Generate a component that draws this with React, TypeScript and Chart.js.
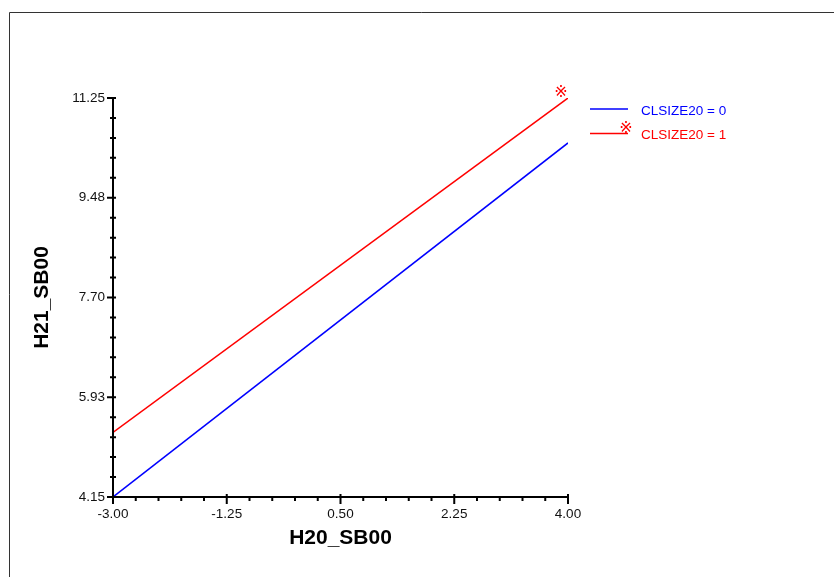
import { useEffect, useRef } from "react";
import { Chart, registerables } from "chart.js";

Chart.register(...registerables);

const xValues = [-3, 4];
const series0 = [4.15, 10.45];
const series1 = [5.3, 11.25];
const seriesLabels = ["CLSIZE20 = 0", "CLSIZE20 = 1"];
const seriesColors = ["#0000ff", "#ff0000"];
const xTickValues = [-3, -1.25, 0.5, 2.25, 4];
const xTickLabels = ["-3.00", "-1.25", "0.50", "2.25", "4.00"];
const yTickValues = [4.15, 5.925, 7.7, 9.475, 11.25];
const yTickLabels = ["4.15", "5.93", "7.70", "9.48", "11.25"];
const xTitle = "H20_SB00";
const yTitle = "H21_SB00";
const markerSymbol = "※";

const FONT = '"Liberation Sans", Arial, sans-serif';
const SYMBOL_FONT = '"DejaVu Sans", sans-serif';

const decorPlugin = {
  id: "decor",
  afterDraw(chart: any) {
    const { ctx, chartArea } = chart;
    const xs = chart.scales.x;
    const ys = chart.scales.y;
    ctx.save();
    // frame
    ctx.strokeStyle = "#333";
    ctx.lineWidth = 1;
    ctx.beginPath();
    ctx.moveTo(9.5, chart.height);
    ctx.lineTo(9.5, 12.5);
    ctx.lineTo(chart.width, 12.5);
    ctx.stroke();

    // axes
    ctx.strokeStyle = "#000";
    ctx.lineWidth = 2;
    ctx.beginPath();
    ctx.moveTo(chartArea.left, chartArea.top - 1);
    ctx.lineTo(chartArea.left, chartArea.bottom);
    ctx.lineTo(chartArea.right + 1, chartArea.bottom);
    ctx.stroke();

    // ticks
    ctx.lineWidth = 2;
    ctx.beginPath();
    for (let i = 0; i < yTickValues.length; i++) {
      const py = ys.getPixelForValue(yTickValues[i]);
      ctx.moveTo(chartArea.left - 6, py);
      ctx.lineTo(chartArea.left + 3, py);
      if (i < yTickValues.length - 1) {
        const step = (yTickValues[i + 1] - yTickValues[i]) / 5;
        for (let k = 1; k < 5; k++) {
          const my = ys.getPixelForValue(yTickValues[i] + step * k);
          ctx.moveTo(chartArea.left - 3, my);
          ctx.lineTo(chartArea.left + 3, my);
        }
      }
    }
    for (let i = 0; i < xTickValues.length; i++) {
      const px = xs.getPixelForValue(xTickValues[i]);
      ctx.moveTo(px, chartArea.bottom - 3);
      ctx.lineTo(px, chartArea.bottom + 7);
      if (i < xTickValues.length - 1) {
        const step = (xTickValues[i + 1] - xTickValues[i]) / 5;
        for (let k = 1; k < 5; k++) {
          const mx = xs.getPixelForValue(xTickValues[i] + step * k);
          ctx.moveTo(mx, chartArea.bottom - 1);
          ctx.lineTo(mx, chartArea.bottom + 4);
        }
      }
    }
    ctx.stroke();

    // titles
    ctx.fillStyle = "#000";
    ctx.font = `bold 21px ${FONT}`;
    ctx.textAlign = "center";
    ctx.textBaseline = "middle";
    ctx.fillText(xTitle, (chartArea.left + chartArea.right) / 2, 538);
    ctx.save();
    ctx.translate(42, (chartArea.top + chartArea.bottom) / 2);
    ctx.rotate(-Math.PI / 2);
    ctx.fillText(yTitle, 0, 0);
    ctx.restore();

    // marker at end of last series
    const lastMeta = chart.getDatasetMeta(chart.data.datasets.length - 1);
    const lastPt = lastMeta.data[lastMeta.data.length - 1];
    ctx.font = `16px ${SYMBOL_FONT}`;
    ctx.fillStyle = seriesColors[seriesColors.length - 1];
    ctx.fillText(markerSymbol, lastPt.x - 7, lastPt.y - 5);

    // legend
    const lx0 = 590;
    const lx1 = 628;
    const ly0 = 109;
    chart.data.datasets.forEach((ds: any, i: number) => {
      const ly = ly0 + i * 24.5;
      ctx.strokeStyle = ds.borderColor;
      ctx.lineWidth = 1.5;
      ctx.beginPath();
      ctx.moveTo(lx0, ly);
      ctx.lineTo(lx1, ly);
      ctx.stroke();
      ctx.fillStyle = ds.borderColor;
      ctx.font = `13.5px ${FONT}`;
      ctx.textAlign = "left";
      ctx.fillText(ds.label, 641, ly + 2);
      if (i === chart.data.datasets.length - 1) {
        ctx.textAlign = "center";
        ctx.font = `16px ${SYMBOL_FONT}`;
        ctx.fillText(markerSymbol, lx1 - 2, ly - 5);
      }
    });
    ctx.restore();
  },
};

export default function App() {
  const ref = useRef<HTMLCanvasElement | null>(null);
  useEffect(() => {
    if (!ref.current) return;
    const chart = new Chart(ref.current, {
      type: "line",
      data: {
        datasets: [series0, series1].map((s, i) => ({
          label: seriesLabels[i],
          data: xValues.map((x, j) => ({ x, y: s[j] })),
          borderColor: seriesColors[i],
          backgroundColor: seriesColors[i],
          borderWidth: 1.5,
          pointRadius: 0,
          fill: false,
          tension: 0,
        })),
      },
      options: {
        responsive: false,
        animation: false,
        devicePixelRatio: 1,
        layout: { padding: { top: 98, right: 266, left: 0, bottom: 0 } },
        plugins: { legend: { display: false }, tooltip: { enabled: false } },
        scales: {
          x: {
            type: "linear",
            min: xValues[0],
            max: xValues[xValues.length - 1],
            afterBuildTicks: (s: any) => {
              s.ticks = xTickValues.map((v) => ({ value: v }));
            },
            afterFit: (s: any) => {
              s.height = 80;
            },
            grid: { display: false, drawTicks: false },
            border: { display: false },
            ticks: {
              autoSkip: false,
              maxRotation: 0,
              padding: 9,
              color: "#111",
              font: { family: FONT, size: 13.5 },
              callback: (_v: any, i: number) => xTickLabels[i],
            },
          },
          y: {
            type: "linear",
            min: yTickValues[0],
            max: yTickValues[yTickValues.length - 1],
            afterBuildTicks: (s: any) => {
              s.ticks = yTickValues.map((v) => ({ value: v }));
            },
            afterFit: (s: any) => {
              s.width = 113;
            },
            grid: { display: false, drawTicks: false },
            border: { display: false },
            ticks: {
              autoSkip: false,
              padding: 8,
              color: "#111",
              font: { family: FONT, size: 13.5 },
              callback: (_v: any, i: number) => yTickLabels[i],
            },
          },
        },
      },
      plugins: [decorPlugin],
    });
    return () => chart.destroy();
  }, []);
  return (
    <div style={{ position: "absolute", left: 0, top: 0, width: 834, height: 577, background: "#fff" }}>
      <canvas ref={ref} width={834} height={577} style={{ display: "block" }} />
    </div>
  );
}
